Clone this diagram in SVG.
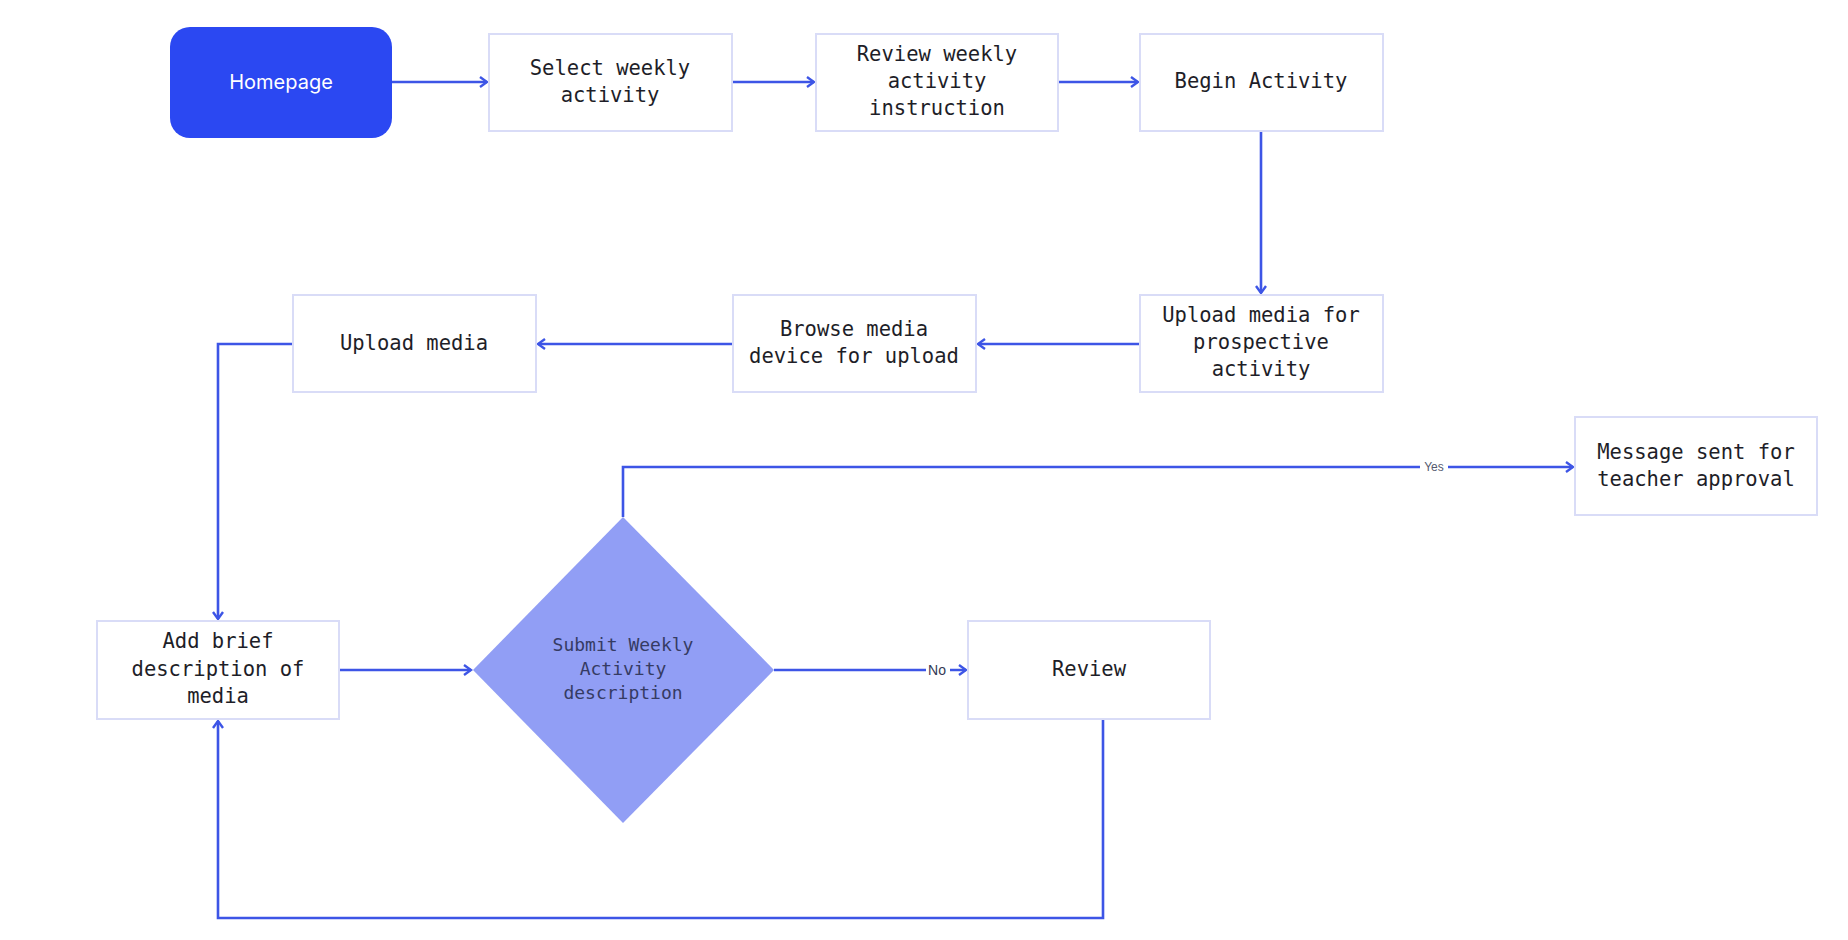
<svg xmlns="http://www.w3.org/2000/svg" width="1848" height="940" viewBox="0 0 1848 940">
<defs>
<style>
.box{fill:#ffffff;stroke:#d9dcf7;stroke-width:2}
.t{font-family:"DejaVu Sans Mono","Liberation Mono",monospace;font-size:20.5px;fill:#1e1e28;text-anchor:middle}
.dt{font-family:"DejaVu Sans Mono","Liberation Mono",monospace;font-size:18px;fill:#353b63;text-anchor:middle}
.c{fill:none;stroke:#3d55e6;stroke-width:2.6}
.lbl{font-family:"Liberation Sans",Arial,sans-serif;font-size:13px;fill:#555a70;text-anchor:middle}
</style>
<marker id="ah" markerWidth="10" markerHeight="12" refX="8" refY="6" orient="auto" markerUnits="userSpaceOnUse">
<path d="M1,1 L8,6 L1,11" fill="none" stroke="#3d55e6" stroke-width="2.4"/>
</marker>
</defs>
<rect width="1848" height="940" fill="#ffffff"/>
<g id="connectors">
<path class="c" d="M392,82 H487" marker-end="url(#ah)"/>
<path class="c" d="M732,82 H814" marker-end="url(#ah)"/>
<path class="c" d="M1058,82 H1138" marker-end="url(#ah)"/>
<path class="c" d="M1261,131 V293" marker-end="url(#ah)"/>
<path class="c" d="M1140,344 H978" marker-end="url(#ah)"/>
<path class="c" d="M733,344 H538" marker-end="url(#ah)"/>
<path class="c" d="M293,344 H218 V619" marker-end="url(#ah)"/>
<path class="c" d="M339,670 H471" marker-end="url(#ah)"/>
<path class="c" d="M774,670 H926 M950,670 H966" marker-end="url(#ah)"/>
<path class="c" d="M623,517 V467 H1420 M1448,467 H1573" marker-end="url(#ah)"/>
<path class="c" d="M1103,719 V918 H218 V721" marker-end="url(#ah)"/>
<text class="lbl" x="937" y="675" style="font-size:14px;fill:#333a55">No</text>
<text class="lbl" x="1434" y="471" style="font-size:12px">Yes</text>
</g>
<g id="homepage">
<rect x="170" y="27" width="222" height="111" rx="20" fill="#2b48f2"/>
<text x="281" y="89" font-family="Inter,'Liberation Sans',sans-serif" font-size="20" fill="#ffffff" text-anchor="middle">Homepage</text>
</g>
<g id="select-weekly">
<rect class="box" x="489" y="34" width="243" height="97"/>
<text class="t" x="610" y="75">Select weekly</text>
<text class="t" x="610" y="102">activity</text>
</g>
<g id="review-weekly">
<rect class="box" x="816" y="34" width="242" height="97"/>
<text class="t" x="937" y="61">Review weekly</text>
<text class="t" x="937" y="88">activity</text>
<text class="t" x="937" y="115">instruction</text>
</g>
<g id="begin-activity">
<rect class="box" x="1140" y="34" width="243" height="97"/>
<text class="t" x="1261" y="88">Begin Activity</text>
</g>
<g id="upload-prospective">
<rect class="box" x="1140" y="295" width="243" height="97"/>
<text class="t" x="1261" y="322">Upload media for</text>
<text class="t" x="1261" y="349">prospective</text>
<text class="t" x="1261" y="376">activity</text>
</g>
<g id="browse-media">
<rect class="box" x="733" y="295" width="243" height="97"/>
<text class="t" x="854" y="336">Browse media</text>
<text class="t" x="854" y="363">device for upload</text>
</g>
<g id="upload-media">
<rect class="box" x="293" y="295" width="243" height="97"/>
<text class="t" x="414" y="350">Upload media</text>
</g>
<g id="add-description">
<rect class="box" x="97" y="621" width="242" height="98"/>
<text class="t" x="218" y="648">Add brief</text>
<text class="t" x="218" y="676">description of</text>
<text class="t" x="218" y="703">media</text>
</g>
<g id="submit-decision">
<polygon points="623,517 774,670 623,823 473,670" fill="#919ef5"/>
<text class="dt" x="623" y="651">Submit Weekly</text>
<text class="dt" x="623" y="675">Activity</text>
<text class="dt" x="623" y="699">description</text>
</g>
<g id="review">
<rect class="box" x="968" y="621" width="242" height="98"/>
<text class="t" x="1089" y="676">Review</text>
</g>
<g id="message-sent">
<rect class="box" x="1575" y="417" width="242" height="98"/>
<text class="t" x="1696" y="459">Message sent for</text>
<text class="t" x="1696" y="486">teacher approval</text>
</g>
</svg>
